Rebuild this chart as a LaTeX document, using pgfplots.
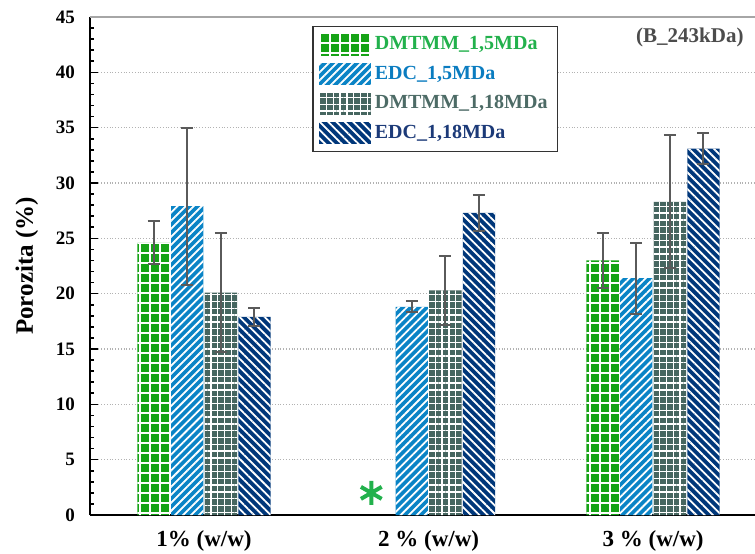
\documentclass[border=0pt]{standalone}
\usepackage{pgfplots}
\pgfplotsset{compat=1.18}
\usepackage{fontspec}
\setmainfont{Liberation Serif}
\usetikzlibrary{patterns.meta}
\definecolor{cgreen}{HTML}{16A316}
\definecolor{cblue}{HTML}{0A84C6}
\definecolor{cgray}{HTML}{466660}
\definecolor{cdark}{HTML}{00377A}
\definecolor{tgreen}{HTML}{22B14C}
\definecolor{tblue}{HTML}{0A7CC0}
\definecolor{tgray}{HTML}{4D6B66}
\definecolor{tdark}{HTML}{1C3A78}
\definecolor{errc}{HTML}{5A5A5A}
\begin{document}
\begin{tikzpicture}
\begin{axis}[
  scale only axis, width=332.5pt, height=249pt,
  xmin=-0.508, xmax=2.454, ymin=0, ymax=45,
  ybar, bar width=16.2pt,
  axis x line*=bottom, axis y line*=left,
  axis line style={line width=1pt, black},
  xtick={0,1,2}, xticklabels={1\% (w/w), 2 \% (w/w), 3 \% (w/w)},
  x tick style={draw=none},
  ytick={0,5,...,45}, minor y tick num=4,
  tick align=inside, major tick length=4pt, minor tick length=2pt,
  y tick style={line width=0.8pt, black},
  /pgf/number format/assume math mode=true,
  yticklabel style={font=\bfseries\fontsize{9.5}{11}\selectfont, xshift=-4pt},
  xticklabel style={font=\bfseries\fontsize{11.5}{13}\selectfont, yshift=-4pt},
  ylabel={\bfseries Porozita (\%)},
  ylabel style={font=\fontsize{12.5}{14}\selectfont, yshift=2pt},
  ymajorgrids, grid style={densely dotted, gray!60, line width=0.6pt},
  legend style={at={(0.334,0.982)}, anchor=north west, draw=black!80, line width=0.7pt,
    font=\bfseries\fontsize{10}{12}\selectfont, row sep=2.6pt, inner sep=3pt},
  legend cell align=left,
  legend image code/.code={\path[#1,draw=none] (0pt,-5.5pt) rectangle (26pt,5.5pt);},
  error bars/y dir=both, error bars/y explicit,
  error bars/error bar style={line width=1pt, errc},
  error bars/error mark options={rotate=90, mark size=3pt, line width=1pt, errc},
  after end axis/.code={\draw[gray!70, line width=0.8pt] (rel axis cs:0,1) -- (rel axis cs:1,1);},
]
\addplot[draw=none, fill=cgreen, bar shift=-25.2pt,
  postaction={pattern={Hatch[angle=0,distance=5pt,line width=0.9pt]}, pattern color=white}]
  coordinates {(0,24.6) +- (0,1.95) (2,23.0) +- (0,2.45)};
\addplot[draw=none, fill=cblue, bar shift=-8.4pt,
  postaction={pattern={Lines[angle=45,distance=2.85pt,line width=0.9pt]}, pattern color=white}]
  coordinates {(0,27.9) +- (0,7.1) (1,18.8) +- (0,0.5) (2,21.4) +- (0,3.2)};
\addplot[draw=none, fill=cgray, bar shift=8.4pt,
  postaction={pattern={Hatch[angle=0,distance=3.4pt,line width=0.7pt]}, pattern color=white}]
  coordinates {(0,20.1) +- (0,5.4) (1,20.3) +- (0,3.1) (2,28.3) +- (0,6.0)};
\addplot[draw=none, fill=cdark, bar shift=25.2pt,
  postaction={pattern={Lines[angle=-45,distance=2.95pt,line width=0.9pt]}, pattern color=white}]
  coordinates {(0,17.9) +- (0,0.85) (1,27.3) +- (0,1.6) (2,33.1) +- (0,1.4)};
\legend{\textcolor{tgreen}{DMTMM\_1,5MDa}, \textcolor{tblue}{EDC\_1,5MDa}, \textcolor{tgray}{DMTMM\_1,18MDa}, \textcolor{tdark}{EDC\_1,18MDa}}
\addplot[forget plot, only marks, mark=asterisk, mark size=6pt, line width=2pt, color=tgreen, error bars/y dir=none]
  coordinates {(0.745,2.0)};
\node[font=\bfseries\fontsize{10.5}{12}\selectfont, text=black!70] at (rel axis cs:0.902,0.958) {(B\_243kDa)};
\coordinate (sw) at (rel axis cs:0,0);
\coordinate (ne) at (rel axis cs:1,1);
\end{axis}
\pgfresetboundingbox
\path[use as bounding box] ([xshift=-45pt,yshift=-19pt]sw) rectangle ([yshift=8.5pt]ne);
\end{tikzpicture}
\end{document}
